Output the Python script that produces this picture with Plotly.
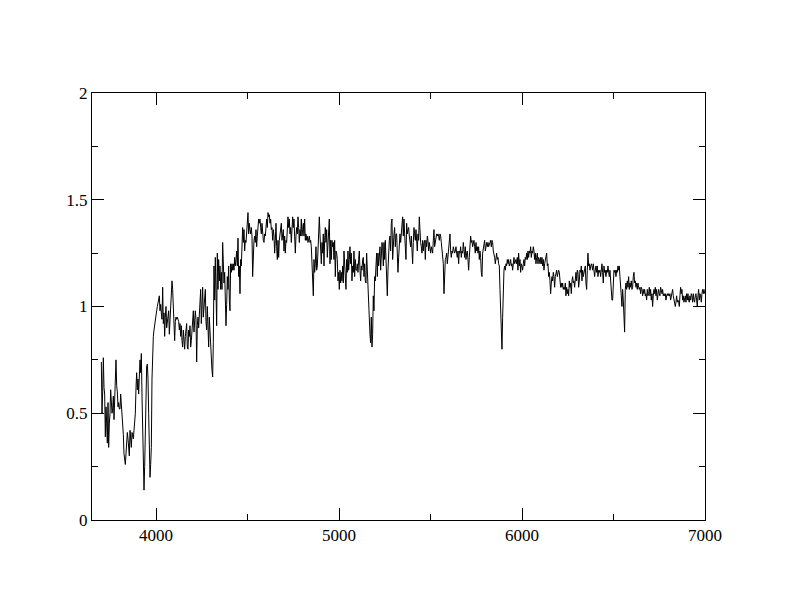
import numpy as np
import plotly.graph_objects as go

# Spectrum sampled on a regular dispersion grid (start wavelength + step, in Angstrom)
WAVE_START = 3701.0
WAVE_STEP = 3.643

flux_3700_4226 = [
    0.74, 0.50, 0.60, 0.76, 0.62, 0.59, 0.39, 0.53, 0.45, 0.36,
    0.55, 0.34, 0.45, 0.50, 0.61, 0.52, 0.50, 0.52, 0.58, 0.47,
    0.55, 0.67, 0.75, 0.63, 0.60, 0.53, 0.55, 0.52, 0.52, 0.59,
    0.55, 0.47, 0.44, 0.40, 0.31, 0.29, 0.26, 0.31, 0.39, 0.41,
    0.38, 0.33, 0.30, 0.42, 0.36, 0.34, 0.41, 0.40, 0.38, 0.42,
    0.46, 0.50, 0.62, 0.69, 0.61, 0.66, 0.59, 0.70, 0.75, 0.69,
    0.78, 0.58, 0.45, 0.30, 0.14, 0.25, 0.50, 0.59, 0.72, 0.73,
    0.66, 0.50, 0.31, 0.20, 0.26, 0.34, 0.66, 0.81, 0.86, 0.89,
    0.92, 0.95, 0.96, 0.98, 1.00, 1.02, 1.04, 1.05, 0.98, 1.01,
    0.97, 0.94, 1.09, 0.92, 0.97, 0.86, 0.95, 1.00, 0.90, 0.93,
    0.97, 0.98, 0.87, 0.93, 0.98, 1.04, 1.12, 1.08, 0.96, 0.87,
    0.84, 0.93, 0.95, 0.94, 0.95, 0.94, 0.93, 0.89, 0.92, 0.86,
    0.91, 0.84, 0.81, 0.89, 0.83, 0.80, 0.86, 0.91, 0.92, 0.81,
    0.80, 0.89, 0.86, 0.91, 0.81, 0.84, 0.89, 0.97, 0.98, 0.88,
    0.97, 0.98, 0.94, 0.74, 0.91,
]

flux_4229_4805 = [
    0.95, 0.90, 0.98, 1.02, 1.08, 0.92, 1.05, 1.09, 0.95, 1.00,
    1.03, 1.08, 0.93, 0.89, 1.00, 0.85, 0.81, 0.95, 0.87, 0.80,
    0.77, 0.70, 0.67, 0.83, 1.19, 1.03, 1.23, 1.11, 0.91, 1.25,
    1.08, 1.22, 1.12, 1.19, 1.08, 1.16, 1.08, 1.30, 1.16, 1.11,
    1.16, 1.08, 0.91, 1.01, 1.14, 1.08, 1.19, 1.03, 0.98, 1.20,
    1.16, 1.20, 1.17, 1.20, 1.17, 1.23, 1.19, 1.22, 1.26, 1.19,
    1.32, 1.14, 1.19, 1.06, 1.22, 1.19, 1.33, 1.37, 1.30, 1.36,
    1.26, 1.31, 1.30, 1.36, 1.39, 1.44, 1.34, 1.39, 1.36, 1.34,
    1.37, 1.33, 1.14, 1.26, 1.31, 1.33, 1.30, 1.36, 1.28, 1.33,
    1.37, 1.41, 1.39, 1.41, 1.37, 1.34, 1.39, 1.33, 1.31, 1.30,
    1.34, 1.33, 1.37, 1.41, 1.37, 1.44, 1.42, 1.43, 1.39, 1.41,
    1.36, 1.37, 1.31, 1.36, 1.33, 1.25, 1.31, 1.39, 1.28, 1.22,
    1.31, 1.23, 1.31, 1.34, 1.36, 1.39, 1.31, 1.33, 1.36, 1.26,
    1.33, 1.25, 1.31, 1.30, 1.36, 1.42, 1.37, 1.41, 1.34, 1.37,
    1.30, 1.36, 1.42, 1.37, 1.41, 1.33, 1.25, 1.33, 1.37, 1.34,
    1.42, 1.37, 1.30, 1.36, 1.33, 1.41, 1.33, 1.36, 1.39,
]

flux_4808_5384 = [
    1.33, 1.41, 1.31, 1.34, 1.31, 1.33, 1.30, 1.31, 1.33, 1.30,
    1.31, 1.28, 1.19, 1.12, 1.05, 1.22, 1.16, 1.20, 1.28, 1.17,
    1.19, 1.26, 1.36, 1.42, 1.34, 1.28, 1.20, 1.30, 1.25, 1.34,
    1.19, 1.31, 1.37, 1.30, 1.36, 1.23, 1.31, 1.34, 1.41, 1.20,
    1.31, 1.22, 1.31, 1.28, 1.30, 1.22, 1.31, 1.14, 1.26, 1.25,
    1.22, 1.12, 1.16, 1.08, 1.17, 1.11, 1.16, 1.12, 1.19, 1.11,
    1.26, 1.19, 1.17, 1.08, 1.22, 1.16, 1.26, 1.17, 1.22, 1.28,
    1.20, 1.25, 1.12, 1.19, 1.16, 1.26, 1.14, 1.22, 1.17, 1.17,
    1.20, 1.16, 1.22, 1.26, 1.17, 1.12, 1.19, 1.17, 1.22, 1.23,
    1.14, 1.20, 1.12, 1.11, 1.25, 1.16, 1.11, 1.05, 0.95, 0.87,
    0.83, 0.95, 0.81, 0.87, 1.05, 0.98, 1.14, 1.12, 1.19, 1.25,
    1.14, 1.25, 1.19, 1.23, 1.28, 1.17, 1.22, 1.30, 1.28, 1.19,
    1.30, 1.22, 1.31, 1.19, 1.16, 1.05, 1.17, 1.26, 1.31, 1.33,
    1.26, 1.39, 1.41, 1.22, 1.33, 1.34, 1.37, 1.28, 1.34, 1.34,
    1.25, 1.16, 1.23, 1.33, 1.34, 1.30, 1.34, 1.37, 1.42, 1.33,
    1.41, 1.34, 1.28, 1.22, 1.39, 1.34, 1.36, 1.37, 1.33,
]

flux_5388_5963 = [
    1.31, 1.28, 1.33, 1.22, 1.20, 1.30, 1.37, 1.34, 1.31, 1.36,
    1.28, 1.26, 1.34, 1.31, 1.42, 1.33, 1.30, 1.28, 1.25, 1.31,
    1.26, 1.30, 1.31, 1.22, 1.31, 1.28, 1.33, 1.31, 1.26, 1.30,
    1.28, 1.25, 1.28, 1.26, 1.25, 1.31, 1.36, 1.28, 1.31, 1.33,
    1.34, 1.33, 1.34, 1.33, 1.31, 1.34, 1.33, 1.30, 1.25, 1.23,
    1.20, 1.06, 1.19, 1.22, 1.23, 1.25, 1.20, 1.23, 1.26, 1.30,
    1.34, 1.26, 1.23, 1.26, 1.25, 1.28, 1.26, 1.25, 1.26, 1.28,
    1.25, 1.23, 1.26, 1.20, 1.26, 1.25, 1.28, 1.23, 1.26, 1.25,
    1.30, 1.26, 1.23, 1.28, 1.22, 1.25, 1.26, 1.22, 1.17, 1.23,
    1.31, 1.33, 1.30, 1.31, 1.28, 1.30, 1.31, 1.28, 1.25, 1.30,
    1.26, 1.28, 1.25, 1.28, 1.22, 1.26, 1.23, 1.16, 1.14, 1.25,
    1.28, 1.30, 1.31, 1.26, 1.28, 1.30, 1.28, 1.30, 1.28, 1.30,
    1.30, 1.31, 1.28, 1.31, 1.30, 1.26, 1.25, 1.23, 1.20, 1.23,
    1.25, 1.22, 1.23, 1.20, 1.19, 1.08, 0.97, 0.87, 0.80, 0.95,
    1.12, 1.17, 1.19, 1.17, 1.20, 1.19, 1.22, 1.20, 1.22, 1.19,
    1.20, 1.22, 1.19, 1.20, 1.17, 1.22, 1.23, 1.20, 1.22,
]

flux_5967_6488 = [
    1.22, 1.20, 1.23, 1.17, 1.25, 1.19, 1.22, 1.16, 1.20, 1.19,
    1.17, 1.20, 1.22, 1.19, 1.23, 1.22, 1.25, 1.22, 1.26, 1.23,
    1.26, 1.25, 1.28, 1.23, 1.26, 1.25, 1.28, 1.26, 1.22, 1.25,
    1.20, 1.23, 1.25, 1.20, 1.23, 1.22, 1.20, 1.23, 1.20, 1.23,
    1.19, 1.22, 1.17, 1.20, 1.22, 1.23, 1.25, 1.19, 1.20, 1.14,
    1.16, 1.12, 1.06, 1.11, 1.14, 1.12, 1.16, 1.14, 1.09, 1.14,
    1.16, 1.17, 1.14, 1.16, 1.17, 1.16, 1.12, 1.09, 1.11, 1.09,
    1.11, 1.08, 1.09, 1.08, 1.11, 1.05, 1.09, 1.06, 1.08, 1.05,
    1.12, 1.09, 1.11, 1.06, 1.12, 1.14, 1.11, 1.12, 1.09, 1.14,
    1.16, 1.12, 1.17, 1.16, 1.09, 1.12, 1.17, 1.16, 1.19, 1.12,
    1.17, 1.14, 1.16, 1.17, 1.19, 1.11, 1.08, 1.17, 1.25, 1.19,
    1.20, 1.17, 1.19, 1.20, 1.19, 1.17, 1.20, 1.16, 1.14, 1.17,
    1.19, 1.16, 1.19, 1.14, 1.17, 1.16, 1.17, 1.14, 1.19, 1.20,
    1.16, 1.11, 1.19, 1.16, 1.17, 1.14, 1.17, 1.16, 1.19, 1.16,
    1.14, 1.17, 1.11, 1.06,
]

flux_6492_6998 = [
    1.03, 1.03, 1.16, 1.17, 1.16, 1.17, 1.14, 1.17, 1.16, 1.19,
    1.17, 1.19, 1.14, 1.11, 1.05, 1.00, 1.08, 1.03, 0.95, 0.88,
    1.08, 1.11, 1.08, 1.12, 1.09, 1.14, 1.08, 1.11, 1.09, 1.12,
    1.08, 1.09, 1.14, 1.16, 1.11, 1.12, 1.09, 1.11, 1.08, 1.11,
    1.09, 1.08, 1.09, 1.06, 1.09, 1.08, 1.05, 1.08, 1.06, 1.08,
    1.05, 1.06, 1.03, 1.08, 1.05, 1.06, 1.09, 1.05, 1.08, 1.03,
    1.06, 1.00, 1.05, 1.08, 1.06, 1.09, 1.05, 1.08, 1.03, 1.06,
    1.08, 1.06, 1.05, 1.09, 1.08, 1.06, 1.08, 1.05, 1.06, 1.05,
    1.06, 1.03, 1.05, 1.06, 1.05, 1.06, 1.05, 1.06, 1.03, 1.05,
    1.06, 1.08, 1.05, 1.03, 1.02, 1.00, 1.02, 1.05, 1.02, 1.03,
    1.02, 1.00, 1.05, 1.09, 1.06, 1.08, 1.03, 1.05, 1.02, 1.03,
    1.05, 1.02, 1.06, 1.03, 1.06, 1.03, 1.02, 1.05, 1.03, 1.06,
    1.05, 1.02, 1.06, 1.03, 1.02, 1.05, 1.06, 1.03, 1.00, 1.05,
    1.08, 1.03, 1.06, 1.05, 1.02, 1.06, 1.08, 1.06, 1.08, 1.06,
]

flux = (flux_3700_4226 + flux_4229_4805 + flux_4808_5384
        + flux_5388_5963 + flux_5967_6488 + flux_6492_6998)
wave = WAVE_START + WAVE_STEP * np.arange(len(flux))

X_RANGE = [3650, 7000]
Y_RANGE = [0, 2]

fig = go.Figure()
fig.add_trace(go.Scatter(
    x=wave, y=flux, mode="lines",
    line=dict(color="black", width=1),
    hoverinfo="skip", showlegend=False,
))

axis_common = dict(
    showgrid=False, zeroline=False,
    showline=True, linecolor="black", linewidth=1, mirror="allticks",
    ticks="inside", ticklen=12, tickwidth=1, tickcolor="black",
    tickfont=dict(family="Liberation Serif, Times New Roman, serif", size=17, color="black"),
)

fig.update_xaxes(
    range=X_RANGE, tick0=4000, dtick=1000,
    minor=dict(dtick=500, tick0=4000, ticklen=6, ticks="inside", tickcolor="black", showgrid=False),
    **axis_common,
)
fig.update_yaxes(
    range=Y_RANGE, tick0=0, dtick=0.5,
    minor=dict(dtick=0.25, tick0=0, ticklen=6, ticks="inside", tickcolor="black", showgrid=False),
    **axis_common,
)

fig.update_layout(
    width=792, height=612,
    margin=dict(l=84, r=95, t=85, b=100),
    paper_bgcolor="white", plot_bgcolor="white",
    font=dict(family="Liberation Serif, Times New Roman, serif", size=17, color="black"),
)

fig.write_html("out.html")
